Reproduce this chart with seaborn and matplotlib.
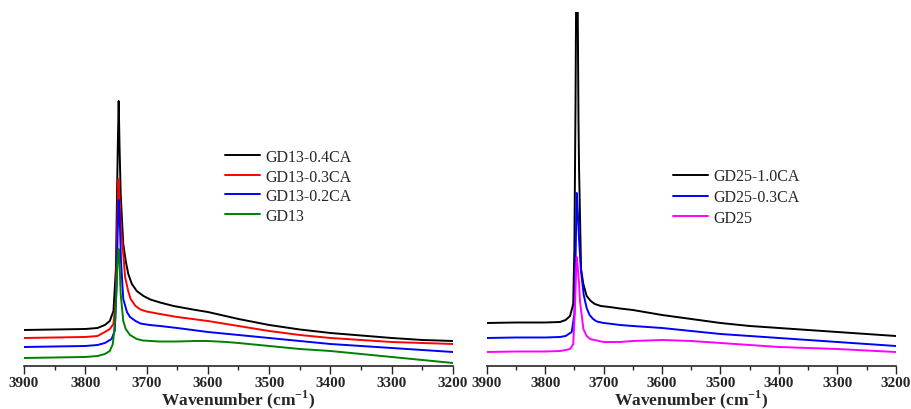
import numpy as np
import pandas as pd
import matplotlib
matplotlib.use('Agg')
import matplotlib.pyplot as plt
import seaborn as sns
from matplotlib.ticker import MultipleLocator


# Left panel: GD13 series (wavenumber cm-1, intensity a.u.)
wn_gd13_04 = [3900, 3850, 3800, 3780, 3768, 3760, 3754, 3750, 3748.8, 3747, 3745.5, 3744, 3742.2, 3740, 3738,
              3734, 3729.8, 3724, 3716, 3705, 3694, 3678, 3656, 3620, 3600, 3550, 3500, 3450, 3400, 3350,
              3300, 3250, 3200]
int_gd13_04 = [36, 36.5, 37, 38, 41, 45, 55, 97, 147, 217, 265, 217, 172, 145, 122,
               105, 92, 82, 75, 70, 66.5, 63.5, 60, 56, 54, 47, 41, 36.5, 33, 30.5,
               28, 26, 25]

wn_gd13_03 = [3900, 3850, 3800, 3780, 3768, 3760, 3754, 3750, 3748, 3746, 3744, 3741.7, 3738, 3735, 3730,
              3726, 3718, 3710, 3700, 3678, 3650, 3600, 3550, 3500, 3450, 3400, 3350, 3300, 3250, 3200]
int_gd13_03 = [28, 28.5, 29, 30, 34, 37, 42, 67, 137, 187, 167, 139, 112, 89, 75,
               67, 60, 56.5, 54.5, 52, 49, 45, 40, 35, 31, 28, 26, 24, 23, 22]

wn_gd13_02 = [3900, 3850, 3800, 3780, 3768, 3757, 3752, 3749, 3747, 3745.5, 3744, 3741.7, 3738, 3732, 3727,
              3718, 3710, 3695, 3678, 3650, 3600, 3550, 3500, 3450, 3400, 3350, 3300, 3250, 3200]
int_gd13_02 = [19, 19.5, 20, 21, 23, 27, 35, 77, 137, 166, 152, 105, 67, 54, 49,
               45, 42.5, 41, 40, 38, 34, 31, 28, 25, 22, 20, 18, 16, 14]

wn_gd13 = [3900, 3850, 3800, 3780, 3768, 3760, 3755, 3751, 3749, 3747, 3745.5, 3744, 3742.2, 3738, 3734,
           3727, 3716, 3706, 3680, 3650, 3620, 3600, 3570, 3550, 3500, 3450, 3400, 3350, 3300, 3250, 3200]
int_gd13 = [8, 8.5, 9, 10, 12, 15, 22, 47, 82, 107, 117, 102, 72, 45, 37,
            31, 27, 25.5, 24.5, 24.5, 25, 25, 24, 23, 20, 17, 15, 12, 9, 6, 3]

# Right panel: GD25 series
wn_gd25_10 = [3900, 3850, 3800, 3774.5, 3765, 3757.4, 3752, 3750, 3748, 3746.5, 3745, 3743, 3742, 3738.6,
              3734.7, 3729, 3722, 3715, 3705, 3690, 3672, 3650, 3600, 3550, 3500, 3450, 3400, 3350, 3300,
              3250, 3200]
int_gd25_10 = [43, 43.5, 43.5, 44, 46, 50, 62, 117, 267, 420, 420, 247, 197, 97,
               82, 70, 65, 62, 60, 59, 57.5, 56, 51, 47, 43, 40, 38, 36, 34,
               32, 30]

wn_gd25_03 = [3900, 3850, 3800, 3774.5, 3765, 3754.5, 3750, 3748, 3746, 3744, 3742, 3739, 3734, 3729,
              3724, 3718, 3711.7, 3700, 3685, 3672, 3650, 3600, 3550, 3500, 3450, 3400, 3350, 3300, 3250, 3200]
int_gd25_03 = [28, 28.5, 28.5, 29, 30, 34, 52, 107, 173, 152, 127, 97, 71, 58,
               51, 47, 44.5, 43, 42, 41, 40, 38, 35, 32, 30, 28, 26, 24, 22, 20]

wn_gd25 = [3900, 3850, 3800, 3774.5, 3765, 3757.4, 3752, 3749, 3747, 3746, 3744, 3742, 3740.3, 3734.6,
           3729, 3723, 3700, 3672, 3650, 3600, 3550, 3500, 3450, 3400, 3350, 3300, 3250, 3200]
int_gd25 = [14, 14.5, 14.5, 15, 16, 17, 22, 57, 97, 109, 97, 82, 64, 37,
            30, 27, 24, 24, 25, 26, 25, 23, 21, 19, 18, 17, 15.5, 14]

left_labels = ['GD13-0.4CA', 'GD13-0.3CA', 'GD13-0.2CA', 'GD13']
left_colors = ['#000000', '#ff0000', '#0000ff', '#008000']
right_labels = ['GD25-1.0CA', 'GD25-0.3CA', 'GD25']
right_colors = ['#000000', '#0000ff', '#ff00ff']


def _long(wns, ints, labels):
    """
    Stack series into one long dataframe for seaborn
    """
    return pd.concat([pd.DataFrame({'wavenumber': w, 'intensity': i, 'sample': lab})
                      for w, i, lab in zip(wns, ints, labels)], ignore_index=True)


df_left = _long([wn_gd13_04, wn_gd13_03, wn_gd13_02, wn_gd13],
                [int_gd13_04, int_gd13_03, int_gd13_02, int_gd13], left_labels)
df_right = _long([wn_gd25_10, wn_gd25_03, wn_gd25],
                 [int_gd25_10, int_gd25_03, int_gd25], right_labels)

sns.set_style('ticks')
plt.rcParams['font.family'] = ['Liberation Serif', 'DejaVu Serif']
plt.rcParams['mathtext.fontset'] = 'custom'
plt.rcParams['mathtext.rm'] = 'Liberation Serif'
plt.rcParams['mathtext.bf'] = 'Liberation Serif:bold'

fig = plt.figure(figsize=(9.12, 4.10), dpi=100)
ax_l = fig.add_axes([0.0263, 0.1049, 0.4704, 0.8634])
ax_r = fig.add_axes([0.5337, 0.1049, 0.4485, 0.8634])

panels = [(ax_l, df_left, left_labels, left_colors, (0.2467, 0.634), 0.22),
          (ax_r, df_right, right_labels, right_colors, (0.738, 0.587), 0.30)]

for ax, df, labels, colors, anchor, spacing in panels:
    sns.lineplot(data=df, x='wavenumber', y='intensity', hue='sample', hue_order=labels,
                 palette=colors, errorbar=None, linewidth=1.4, ax=ax)
    ax.set_xlim(3900, 3200)
    ax.set_ylim(0, 354)
    ax.xaxis.set_major_locator(MultipleLocator(100))
    ax.xaxis.set_minor_locator(MultipleLocator(50))
    ax.tick_params(axis='x', which='major', direction='out', length=5.5, width=1, pad=1.5)
    ax.tick_params(axis='x', which='minor', direction='out', length=3, width=1)
    for lab in ax.get_xticklabels():
        lab.set_fontweight('bold')
        lab.set_fontsize(11)
    ax.set_yticks([])
    ax.set_ylabel('')
    for side in ['left', 'top', 'right']:
        ax.spines[side].set_visible(False)
    ax.spines['bottom'].set_linewidth(1.2)
    ax.set_xlabel('Wavenumber (cm$^{\\mathbf{-1}}$)', fontsize=12.5, fontweight='bold', labelpad=-1)

    handles, texts = ax.get_legend_handles_labels()
    ax.legend(handles, texts, loc='upper left', bbox_to_anchor=anchor, bbox_transform=fig.transFigure,
              frameon=False, fontsize=11.5, handlelength=2.2, handletextpad=0.35,
              labelspacing=spacing, borderpad=0, borderaxespad=0)

fig.savefig('out.png', dpi=100)
